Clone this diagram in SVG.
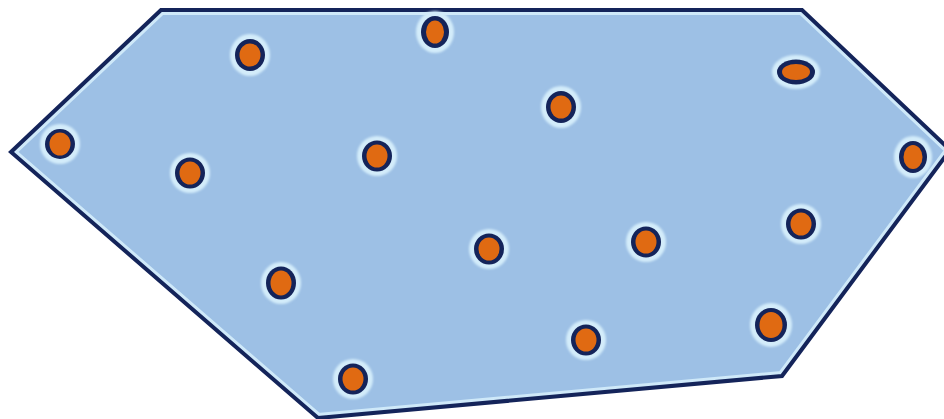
<svg xmlns="http://www.w3.org/2000/svg" width="944" height="419" viewBox="0 0 944 419">
  <defs>
    <style>
      .hull { fill: #9dc0e5; }
      .edge-light { fill: none; stroke: #cfe9f9; stroke-width: 10; stroke-linejoin: miter; }
      .edge-dark { fill: none; stroke: #14245a; stroke-width: 4; stroke-linejoin: miter; }
      .halo { fill: #d3ecfa; }
      .ring { fill: #14245a; }
      .core { fill: #e06a12; }
    </style>
    <clipPath id="hullClip">
      <polygon points="11,152 161,10 802,10 950,150 782,376 318,418"/>
    </clipPath>
    <filter id="soft" x="-50%" y="-50%" width="200%" height="200%">
      <feGaussianBlur stdDeviation="1.2"/>
    </filter>
  </defs>
  <rect width="944" height="419" fill="#ffffff"/>
  <g id="hull">
    <polygon class="hull" points="11,152 161,10 802,10 950,150 782,376 318,418"/>
    <polygon class="edge-light" clip-path="url(#hullClip)" points="11,152 161,10 802,10 950,150 782,376 318,418"/>
    <polygon class="edge-dark" points="11,152 161,10 802,10 950,150 782,376 318,418"/>
  </g>
  <g id="connectors"></g>
  <g id="p1"><ellipse class="halo" filter="url(#soft)" cx="250" cy="55" rx="20" ry="21"/><ellipse class="ring" cx="250" cy="55" rx="15" ry="16"/><ellipse class="core" cx="250" cy="55" rx="10.5" ry="11.5"/></g>
  <g id="p2"><ellipse class="halo" filter="url(#soft)" cx="435" cy="32" rx="19" ry="21"/><ellipse class="ring" cx="435" cy="32" rx="14" ry="16"/><ellipse class="core" cx="435" cy="32" rx="9" ry="11.5"/></g>
  <g id="p3"><ellipse class="halo" filter="url(#soft)" cx="796" cy="72" rx="24" ry="17"/><ellipse class="ring" cx="796" cy="72" rx="19" ry="12.5"/><ellipse class="core" cx="796" cy="72" rx="14" ry="8"/></g>
  <g id="p4"><ellipse class="halo" filter="url(#soft)" cx="561" cy="107" rx="20" ry="21"/><ellipse class="ring" cx="561" cy="107" rx="15" ry="16"/><ellipse class="core" cx="561" cy="107" rx="10.5" ry="11.5"/></g>
  <g id="p5"><ellipse class="halo" filter="url(#soft)" cx="60" cy="144" rx="20" ry="20"/><ellipse class="ring" cx="60" cy="144" rx="15" ry="15"/><ellipse class="core" cx="60" cy="144" rx="10.5" ry="11.5"/></g>
  <g id="p6"><ellipse class="halo" filter="url(#soft)" cx="190" cy="173" rx="20" ry="20"/><ellipse class="ring" cx="190" cy="173" rx="15" ry="15.5"/><ellipse class="core" cx="190" cy="173" rx="10.5" ry="11.5"/></g>
  <g id="p7"><ellipse class="halo" filter="url(#soft)" cx="377" cy="156" rx="20" ry="20"/><ellipse class="ring" cx="377" cy="156" rx="15" ry="15.5"/><ellipse class="core" cx="377" cy="156" rx="10.5" ry="11.5"/></g>
  <g id="p8"><ellipse class="halo" filter="url(#soft)" cx="913" cy="157" rx="19" ry="21"/><ellipse class="ring" cx="913" cy="157" rx="14" ry="16"/><ellipse class="core" cx="913" cy="157" rx="9.5" ry="12"/></g>
  <g id="p9"><ellipse class="halo" filter="url(#soft)" cx="489" cy="249" rx="20" ry="20"/><ellipse class="ring" cx="489" cy="249" rx="15" ry="15.5"/><ellipse class="core" cx="489" cy="249" rx="10.5" ry="11.5"/></g>
  <g id="p10"><ellipse class="halo" filter="url(#soft)" cx="646" cy="242" rx="20" ry="20"/><ellipse class="ring" cx="646" cy="242" rx="15" ry="15.5"/><ellipse class="core" cx="646" cy="242" rx="10.5" ry="11.5"/></g>
  <g id="p11"><ellipse class="halo" filter="url(#soft)" cx="801" cy="224" rx="20" ry="20"/><ellipse class="ring" cx="801" cy="224" rx="15" ry="15.5"/><ellipse class="core" cx="801" cy="224" rx="10.5" ry="11.5"/></g>
  <g id="p12"><ellipse class="halo" filter="url(#soft)" cx="281" cy="283" rx="20" ry="21"/><ellipse class="ring" cx="281" cy="283" rx="15" ry="16.5"/><ellipse class="core" cx="281" cy="283" rx="10.5" ry="12.5"/></g>
  <g id="p13"><ellipse class="halo" filter="url(#soft)" cx="771" cy="325" rx="21" ry="22"/><ellipse class="ring" cx="771" cy="325" rx="16" ry="17"/><ellipse class="core" cx="771" cy="325" rx="11.5" ry="13"/></g>
  <g id="p14"><ellipse class="halo" filter="url(#soft)" cx="586" cy="340" rx="20" ry="20"/><ellipse class="ring" cx="586" cy="340" rx="15" ry="15.5"/><ellipse class="core" cx="586" cy="340" rx="10.5" ry="11.5"/></g>
  <g id="p15"><ellipse class="halo" filter="url(#soft)" cx="353" cy="379" rx="20" ry="20"/><ellipse class="ring" cx="353" cy="379" rx="15" ry="15.5"/><ellipse class="core" cx="353" cy="379" rx="10.5" ry="11.5"/></g>
</svg>
